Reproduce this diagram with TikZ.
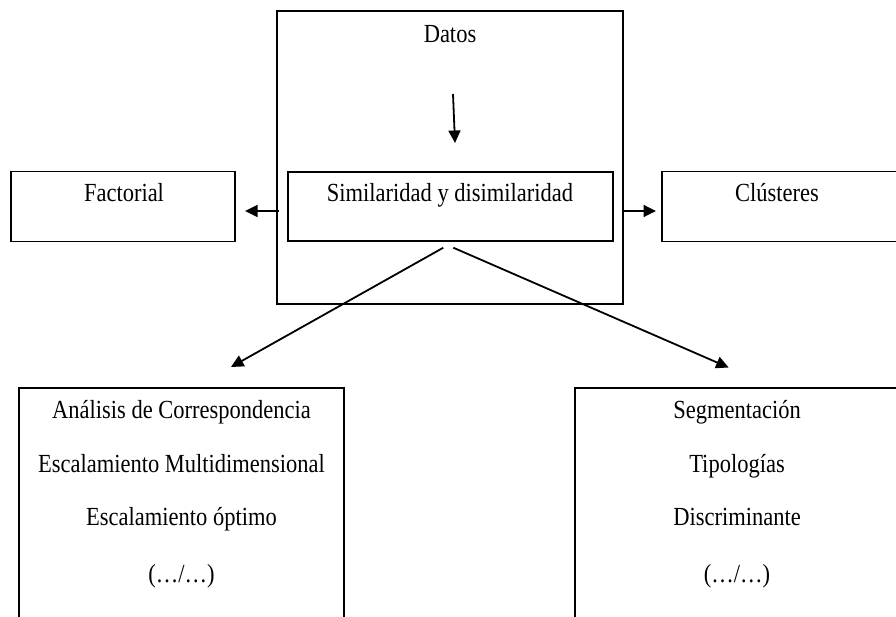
\documentclass[tikz,border=0pt]{standalone}
\usepackage{fontspec}
\setmainfont{Liberation Serif}
\usetikzlibrary{arrows.meta}
\newcommand{\vstretch}[1]{\scalebox{1}[1.16]{#1}}
\begin{document}
\begin{tikzpicture}[x=1pt,y=-1pt,
  boxshape/.style={draw, line width=1.7pt, rectangle, inner sep=0pt},
  lbl/.style={anchor=base, inner sep=0pt, font=\fontsize{22.5}{26}\selectfont},
  conn/.style={line width=1.8pt, -{Triangle[length=12.5pt,width=12pt]}}]
\useasboundingbox (0,0) rectangle (896,617);
\clip (0,0) rectangle (896,617);
% boxes
\node[boxshape, minimum width=346.3pt, minimum height=293pt] (big) at (449.9,157.5) {};
\node[boxshape, minimum width=325pt, minimum height=69pt] (sim) at (450.2,206.5) {};
\node[boxshape, minimum width=224pt, minimum height=70pt] (fac) at (123,206.5) {};
\node[boxshape, minimum width=250pt, minimum height=70pt] (clu) at (787,206.5) {};
\node[boxshape, minimum width=325pt, minimum height=320pt] (bl) at (181.5,548) {};
\node[boxshape, minimum width=325pt, minimum height=320pt] (br) at (737.5,548) {};
% labels
\node[lbl] (tdatos) at (450,42.5) {\vstretch{Datos}};
\node[lbl] (tsim) at (450,201.5) {\vstretch{Similaridad y disimilaridad}};
\node[lbl] (tfac) at (124,201.5) {\vstretch{Factorial}};
\node[lbl] (tclu) at (777,201.5) {\vstretch{Clústeres}};
\node[lbl] (l1) at (181.5,418) {\vstretch{Análisis de Correspondencia}};
\node[lbl] (l2) at (181.5,472) {\vstretch{Escalamiento Multidimensional}};
\node[lbl] (l3) at (181.5,525) {\vstretch{Escalamiento óptimo}};
\node[lbl] (l4) at (181.5,582) {\vstretch{(…/…)}};
\node[lbl] (r1) at (737,418) {\vstretch{Segmentación}};
\node[lbl] (r2) at (737,472) {\vstretch{Tipologías}};
\node[lbl] (r3) at (737,525) {\vstretch{Discriminante}};
\node[lbl] (r4) at (737,582) {\vstretch{(…/…)}};
% connector endpoints
\coordinate (dA) at (453,94);
\coordinate (dB) at (455,143);
\coordinate (lA) at (279,211);
\coordinate (lB) at (245,211);
\coordinate (rA) at (621.7,211);
\coordinate (rB) at (656,211);
\coordinate (gA) at (443.3,247.7);
\coordinate (gB) at (231,367);
\coordinate (hA) at (453.3,247.7);
\coordinate (hB) at (728.6,367.5);
% connectors
\draw[conn] (dA) -- (dB);
\draw[conn] (lA) -- (lB);
\draw[conn] (rA) -- (rB);
\draw[conn] (gA) -- (gB);
\draw[conn] (hA) -- (hB);
\end{tikzpicture}
\end{document}
